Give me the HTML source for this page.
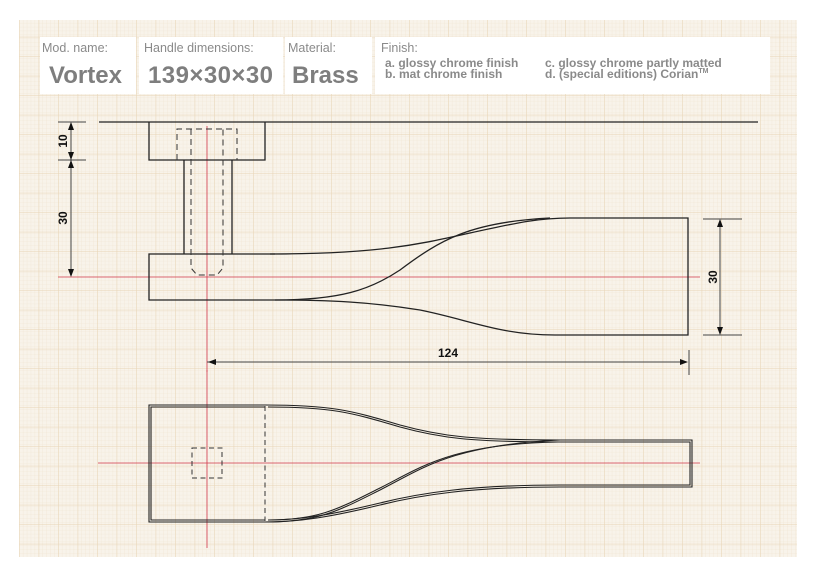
<!DOCTYPE html>
<html><head><meta charset="utf-8"><style>
body{margin:0;background:#fff;}
svg{display:block}
</style></head><body>
<svg width="818" height="576" viewBox="0 0 818 576" xmlns="http://www.w3.org/2000/svg">
<defs>
<pattern id="minor" x="0" y="0" width="3.9" height="3.9" patternUnits="userSpaceOnUse">
<path d="M3.9 0V3.9M0 3.9H3.9" stroke="#efe3d0" stroke-width="0.6" fill="none"/>
</pattern>
<pattern id="major" x="19.2" y="17.3" width="19.5" height="19.5" patternUnits="userSpaceOnUse">
<path d="M0 0V19.5M0 0H19.5" stroke="#e8d4b6" stroke-width="1" fill="none"/>
</pattern>
</defs>
<rect x="19" y="20" width="778" height="537" fill="#f8f3ea"/>
<rect x="19" y="20" width="778" height="537" fill="url(#minor)"/>
<rect x="19" y="20" width="778" height="537" fill="url(#major)"/>
<!-- header boxes -->
<g fill="#fff">
<rect x="40" y="37" width="96" height="57"/>
<rect x="139" y="37" width="144" height="57"/>
<rect x="285" y="37" width="87" height="57"/>
<rect x="375" y="37" width="395" height="57"/>
</g>
<g font-family="Liberation Sans, sans-serif" fill="#8a8a8a">
<text x="42" y="52" font-size="12.5">Mod. name:</text>
<text x="144" y="52" font-size="12.5">Handle dimensions:</text>
<text x="288" y="52" font-size="12.5">Material:</text>
<text x="381" y="52" font-size="12.5">Finish:</text>
<text x="49" y="83" font-size="24" font-weight="bold" fill="#7e7e7e">Vortex</text>
<text x="148" y="83" font-size="24" font-weight="bold" fill="#7e7e7e" textLength="125">139×30×30</text>
<text x="292" y="83" font-size="24" font-weight="bold" fill="#7e7e7e">Brass</text>
<text x="385" y="67" font-size="12" font-weight="bold">a. glossy chrome finish</text>
<text x="385" y="78" font-size="12" font-weight="bold">b. mat chrome finish</text>
<text x="545" y="67" font-size="12" font-weight="bold">c. glossy chrome partly matted</text>
<text x="545" y="78" font-size="12" font-weight="bold">d. (special editions) Corian<tspan font-size="7" dy="-5">TM</tspan></text>
</g>
<!-- red axes -->
<g stroke="#d2384c" stroke-width="0.8">
<line x1="207" y1="126" x2="207" y2="372"/>
<line x1="58" y1="277" x2="700" y2="277"/>
<line x1="207" y1="370" x2="207" y2="548"/>
<line x1="98" y1="463" x2="700" y2="463"/>
</g>
<!-- top view -->
<g stroke="#222" stroke-width="1.3" fill="none">
<line x1="99" y1="122" x2="758" y2="122"/>
<path d="M149 122V160H265V122"/>
<path d="M184 160V254M232 160V254"/>
<path d="M275 254H149V300H275"/>
<path d="M270 254C380 254 420 244 470 233C520 222 540 218 570 218H688V335H555C500 335 470 320 420 310C370 302 330 300 275 300"/>
<path d="M275 300C340 300 370 290 400 270C440 240 470 222 550 218"/>
</g>
<g stroke="#333" stroke-width="1" fill="none" stroke-dasharray="6,4">
<path d="M177 160V129H237V160"/>
<path d="M191 129V268L197 275H217L223 268V129"/>
</g>
<!-- dimensions -->
<g stroke="#444" stroke-width="1" fill="none">
<line x1="58" y1="122" x2="86" y2="122"/>
<line x1="58" y1="160" x2="86" y2="160"/>
<line x1="71" y1="124" x2="71" y2="275"/>
<line x1="703" y1="219" x2="742" y2="219"/>
<line x1="703" y1="335" x2="742" y2="335"/>
<line x1="720" y1="221" x2="720" y2="333"/>
<line x1="207" y1="362" x2="686" y2="362"/>
<line x1="689" y1="350" x2="689" y2="375"/>
</g>
<g fill="#111">
<path d="M71 122l-3 8h6z"/><path d="M71 160l-3 -8h6z"/><path d="M71 160l-3 8h6z"/><path d="M71 277l-3 -8h6z"/>
<path d="M720 219l-3 8h6z"/><path d="M720 335l-3 -8h6z"/>
<path d="M688 362l-8 -3v6z"/><path d="M208 362l8 -3v6z"/>
</g>
<g font-family="Liberation Sans, sans-serif" font-size="12" font-weight="bold" fill="#111">
<text transform="translate(67 141) rotate(-90)" text-anchor="middle">10</text>
<text transform="translate(67 218) rotate(-90)" text-anchor="middle">30</text>
<text transform="translate(717 277) rotate(-90)" text-anchor="middle">30</text>
<text x="448" y="357" text-anchor="middle">124</text>
</g>
<!-- bottom view -->
<g stroke="#222" stroke-width="1.1" fill="none">
<path d="M265 405H149V522H265"/>
<path d="M265 407H151V520H265"/>
<path d="M265 405C330 405 350 410 400 425C440 436 470 440 560 440H692V487H560C470 487 420 495 380 505C330 517 300 522 265 522"/>
<path d="M268 407C330 407 350 412 400 427C440 438 470 442 560 442H690V485H560C470 485 420 493 380 503C330 515 300 520 268 520"/>
<path d="M265 522C320 522 340 510 380 490C420 470 450 445 560 440"/>
<path d="M268 520C320 520 340 508 380 488C420 468 450 444 558 442"/>
</g>
<g stroke="#333" stroke-width="1" fill="none" stroke-dasharray="5,3.5">
<line x1="265" y1="406" x2="265" y2="521"/>
<rect x="192" y="448" width="30" height="30"/>
</g>
</svg>
</body></html>
